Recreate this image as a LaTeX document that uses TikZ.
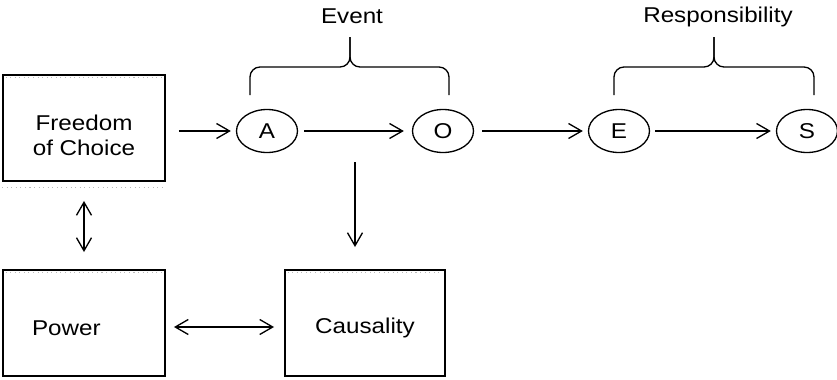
\documentclass[tikz,border=0pt]{standalone}
\usepackage{fontspec}
\setmainfont[FakeStretch=1.13]{Liberation Sans}
\usetikzlibrary{arrows.meta,calc,shapes.geometric}

\begin{document}
\begin{tikzpicture}[
  seam/.style={draw=gray!55, dotted, line width=0.6pt},
  box/.style={
    draw, line width=1.1pt, rectangle,
    minimum width=3.24cm, minimum height=2.12cm,
    font=\fontsize{12.2}{14.4}\selectfont, align=center, inner sep=4pt,
    append after command={
      ([xshift=2pt,yshift=-2pt]\tikzlastnode.north west) edge[seam] ([xshift=-2pt,yshift=-2pt]\tikzlastnode.north east)
      ([yshift=-3pt]\tikzlastnode.south west) edge[seam] ([yshift=-3pt]\tikzlastnode.south east)
    }
  },
  circ/.style={
    draw, ellipse, line width=0.75pt,
    minimum width=1.22cm, minimum height=0.86cm, inner sep=0pt,
    font=\fontsize{12.2}{14.4}\selectfont
  },
  arr/.style={-{Straight Barb[length=2.6mm,width=3mm]}, line width=0.75pt},
  dbl/.style={{Straight Barb[length=2.6mm,width=3mm]}-{Straight Barb[length=2.6mm,width=3mm]}, line width=0.75pt},
  brace/.style={line width=0.75pt, rounded corners=0.2cm},
  lbl/.style={font=\fontsize{12.2}{14.4}\selectfont},
]
\useasboundingbox (0,0) rectangle (16.74,7.58);

% boxes
\node[box, text height=1.1cm] (freedom) at (1.68,5.02) {Freedom\\of Choice};
\node[box, text height=0.5cm, text width=2.08cm, align=left, inner xsep=0.58cm] (power) at (1.68,1.12) {Power};
\node[box, text height=0.5cm, minimum width=3.2cm] (causality) at (7.3,1.12) {Causality};

% chain
\node[circ] (A) at (5.34,4.96)  {A};
\node[circ] (O) at (8.86,4.96)  {O};
\node[circ] (E) at (12.38,4.96) {E};
\node[circ] (S) at (16.14,4.96) {S};

% brace labels
\node[lbl] (event) at (7.04,7.25)  {Event};
\node[lbl] (resp)  at (14.36,7.25) {Responsibility};

\draw[brace] (5.0,5.68)  -- (5.0,6.24)  -- (7.0,6.24) -- (7.0,6.84);
\draw[brace] (8.98,5.68) -- (8.98,6.24) -- (7.0,6.24) -- (7.0,6.84);
\draw[brace] (12.28,5.68) -- (12.28,6.24) -- (14.28,6.24) -- (14.28,6.84);
\draw[brace] (16.28,5.68) -- (16.28,6.24) -- (14.28,6.24) -- (14.28,6.84);

\draw[arr, shorten <=0.26cm, shorten >=0.1cm]  (freedom.east |- A) -- (A);
\draw[arr, shorten <=0.12cm, shorten >=0.16cm] (A) -- (O);
\draw[arr, shorten <=0.16cm, shorten >=0.1cm]  (O) -- (E);
\draw[arr, shorten <=0.1cm,  shorten >=0.1cm]  (E) -- (S);

\coordinate (mid) at ($(A)!.5!(O)$);
\draw[arr, shorten >=0.44cm] ([yshift=-0.62cm]mid) -- (mid |- causality.north);

\draw[dbl, shorten <=0.38cm, shorten >=0.34cm] (freedom) -- (power);
\draw[dbl, shorten <=0.16cm, shorten >=0.2cm]
  ([yshift=-0.08cm]power.east) -- ([yshift=-0.08cm]causality.west);

\end{tikzpicture}
\end{document}
